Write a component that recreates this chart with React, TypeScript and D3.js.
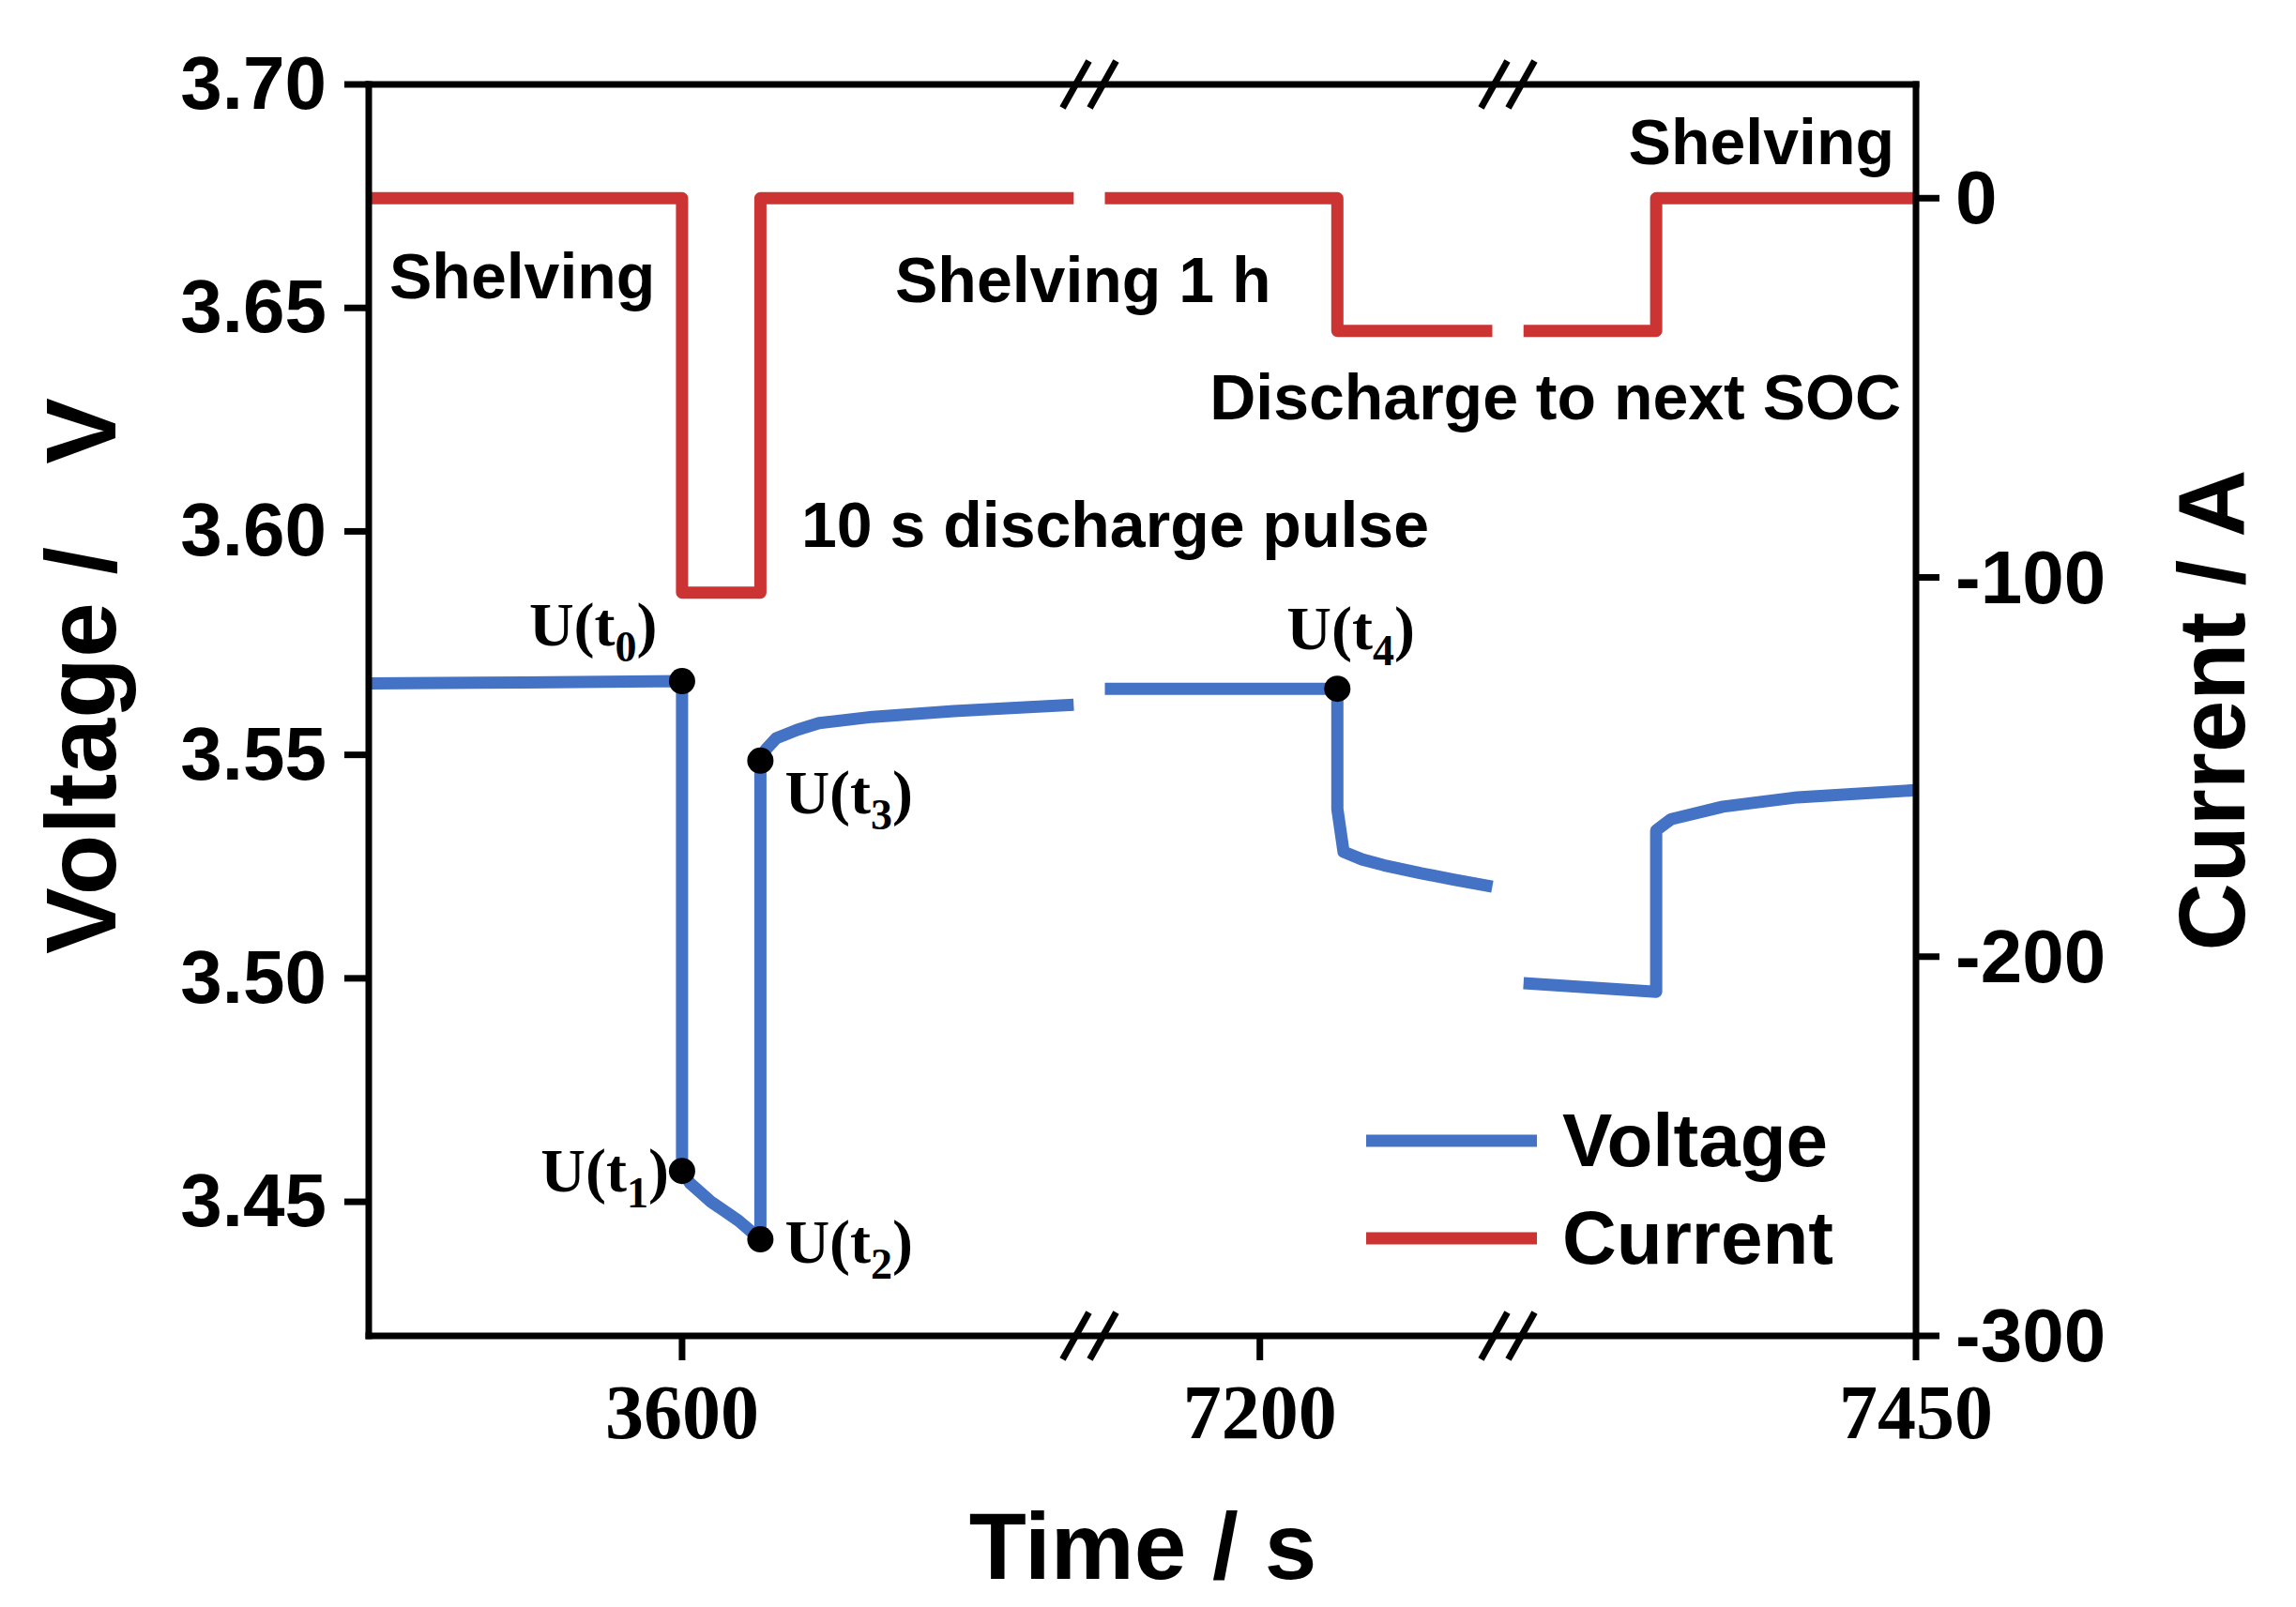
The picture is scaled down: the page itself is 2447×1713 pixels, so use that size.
import { useEffect, useRef } from 'react'
import * as d3 from 'd3'

// broken time axis: three visible windows
const timeSegments: [number, number][] = [
  [3560, 3652],
  [7178, 7232],
  [7398, 7450],
]
const timeTicks = [3600, 7200, 7450]
const voltageTicks = [3.45, 3.5, 3.55, 3.6, 3.65, 3.7]
const currentTicks = [0, -100, -200, -300]

// voltage, one array pair per window
const voltageTime1 = [3560, 3580, 3600, 3600, 3601, 3603.7, 3607.2, 3609.6, 3610, 3610, 3610.7, 3612, 3614.7, 3617.5, 3624.3, 3634.7, 3650]
const voltage1 = [3.566, 3.5662, 3.5665, 3.4569, 3.4542, 3.45, 3.4458, 3.4422, 3.4416, 3.5487, 3.5512, 3.5537, 3.5556, 3.5571, 3.5585, 3.5598, 3.5612]
const voltageTime2 = [7180, 7195, 7210, 7210, 7210.8, 7213.2, 7216, 7220.8, 7225, 7230]
const voltage2 = [3.5648, 3.5648, 3.5648, 3.5379, 3.5283, 3.5266, 3.5253, 3.5235, 3.5221, 3.5205]
const voltageTime3 = [7400, 7416.9, 7416.9, 7418.8, 7425.4, 7434.9, 7450]
const voltage3 = [3.4989, 3.497, 3.5331, 3.5356, 3.5384, 3.5405, 3.5421]

// current
const currentTime1 = [3560, 3600, 3600, 3610, 3610, 3650]
const current1 = [0, 0, -104, -104, 0, 0]
const currentTime2 = [7180, 7210, 7210, 7230]
const current2 = [0, 0, -35, -35]
const currentTime3 = [7400, 7416.9, 7416.9, 7450]
const current3 = [-35, -35, 0, 0]

// marked points U(t0)..U(t4)
const keyTimes = [3600, 3600, 3610, 3610, 7210]
const keyVoltages = [3.5665, 3.4569, 3.4416, 3.5487, 3.5648]
const keySubs = ['0', '1', '2', '3', '4']

const SANS = "'Liberation Sans', Arial, sans-serif"
const SERIF = "'Liberation Serif', 'Times New Roman', serif"
const BLUE = '#4472c4'
const RED = '#cc3333'

export default function App() {
  const svgRef = useRef<SVGSVGElement>(null)

  useEffect(() => {
    const svg = d3.select(svgRef.current)
    svg.selectAll('*').remove()

    const left = 393
    const right = 2042
    const top = 90
    const bottom = 1424
    const breaks = [1161, 1607]
    const edges = [left, ...breaks, right]

    const xs = timeSegments.map((d, i) => d3.scaleLinear().domain(d).range([edges[i], edges[i + 1]]))
    const x = (t: number) => {
      const i = timeSegments.findIndex(([a, b]) => t >= a && t <= b)
      return xs[i](t)
    }
    const y = d3.scaleLinear().domain([3.42, 3.7]).range([bottom, top])
    const y2 = d3.scaleLinear().domain([-300, 30]).range([bottom, top])

    const line = d3.line<[number, number]>()

    // current lines
    const currentSets = [
      [currentTime1, current1],
      [currentTime2, current2],
      [currentTime3, current3],
    ]
    currentSets.forEach(([ts, vs]) => {
      svg
        .append('path')
        .attr('d', line(ts.map((t, i) => [x(t), y2(vs[i])]))!)
        .attr('fill', 'none')
        .attr('stroke', RED)
        .attr('stroke-width', 13)
        .attr('stroke-linejoin', 'round')
    })

    // voltage lines
    const voltageSets = [
      [voltageTime1, voltage1],
      [voltageTime2, voltage2],
      [voltageTime3, voltage3],
    ]
    voltageSets.forEach(([ts, vs]) => {
      svg
        .append('path')
        .attr('d', line(ts.map((t, i) => [x(t), y(vs[i])]))!)
        .attr('fill', 'none')
        .attr('stroke', BLUE)
        .attr('stroke-width', 13)
        .attr('stroke-linejoin', 'round')
    })

    // frame
    const frame = svg.append('g').attr('stroke', '#000').attr('stroke-width', 7).attr('stroke-linecap', 'square')
    frame.append('line').attr('x1', left).attr('x2', left).attr('y1', top).attr('y2', bottom)
    frame.append('line').attr('x1', right).attr('x2', right).attr('y1', top).attr('y2', bottom)
    frame.append('line').attr('x1', left).attr('x2', right).attr('y1', top).attr('y2', top)
    frame.append('line').attr('x1', left).attr('x2', right).attr('y1', bottom).attr('y2', bottom)

    // break marks
    const brk = svg.append('g').attr('stroke', '#000').attr('stroke-width', 7)
    breaks.forEach((bx) => {
      ;[top, bottom].forEach((ay) => {
        ;[-14.5, 14.5].forEach((off) => {
          brk
            .append('line')
            .attr('x1', bx + off - 14)
            .attr('y1', ay + 25)
            .attr('x2', bx + off + 14)
            .attr('y2', ay - 25)
        })
      })
    })

    // left axis
    voltageTicks.forEach((v) => {
      svg.append('line').attr('x1', left - 26).attr('x2', left).attr('y1', y(v)).attr('y2', y(v)).attr('stroke', '#000').attr('stroke-width', 7)
      svg
        .append('text')
        .attr('x', 348)
        .attr('y', y(v) + 26)
        .attr('text-anchor', 'end')
        .attr('font-family', SANS)
        .attr('font-weight', 'bold')
        .attr('font-size', 80)
        .text(d3.format('.2f')(v))
    })

    // right axis
    currentTicks.forEach((c) => {
      svg.append('line').attr('x1', right).attr('x2', right + 25).attr('y1', y2(c)).attr('y2', y2(c)).attr('stroke', '#000').attr('stroke-width', 7)
      svg
        .append('text')
        .attr('x', 2084)
        .attr('y', y2(c) + 27)
        .attr('text-anchor', 'start')
        .attr('font-family', SANS)
        .attr('font-weight', 'bold')
        .attr('font-size', 80)
        .text(String(c))
    })

    // bottom axis
    timeTicks.forEach((t) => {
      svg.append('line').attr('x1', x(t)).attr('x2', x(t)).attr('y1', bottom).attr('y2', bottom + 26).attr('stroke', '#000').attr('stroke-width', 7)
      svg
        .append('text')
        .attr('x', x(t))
        .attr('y', 1533)
        .attr('text-anchor', 'middle')
        .attr('font-family', SERIF)
        .attr('font-weight', 'bold')
        .attr('font-size', 82)
        .text(t)
    })

    // axis titles
    svg
      .append('text')
      .attr('x', 1218)
      .attr('y', 1683)
      .attr('text-anchor', 'middle')
      .attr('font-family', SANS)
      .attr('font-weight', 'bold')
      .attr('font-size', 100)
      .text('Time / s')
    svg
      .append('text')
      .attr('transform', 'translate(123,1017) rotate(-90)')
      .attr('text-anchor', 'start')
      .attr('font-family', SANS)
      .attr('font-weight', 'bold')
      .attr('font-size', 106)
      .style('white-space', 'pre')
      .text('Voltage /   V')
    svg
      .append('text')
      .attr('transform', 'translate(2392,757) rotate(-90)')
      .attr('text-anchor', 'middle')
      .attr('font-family', SANS)
      .attr('font-weight', 'bold')
      .attr('font-size', 100)
      .text('Current / A')

    // annotations
    const notes: [string, number, number, string][] = [
      ['Shelving', 415, 318, 'start'],
      ['Shelving 1 h', 954, 322, 'start'],
      ['Shelving', 2019, 175, 'end'],
      ['Discharge to next SOC', 2026, 447, 'end'],
      ['10 s discharge pulse', 854, 583, 'start'],
    ]
    notes.forEach(([s, nx, ny, anchor]) => {
      svg
        .append('text')
        .attr('x', nx)
        .attr('y', ny)
        .attr('text-anchor', anchor)
        .attr('font-family', SANS)
        .attr('font-weight', 'bold')
        .attr('font-size', 68)
        .text(s)
    })

    // key points
    const labelOffsets: [number, number, string][] = [
      [-163, -38, 'start'],
      [-14, 22, 'end'],
      [26, 25, 'start'],
      [26, 56, 'start'],
      [-54, -42, 'start'],
    ]
    keyTimes.forEach((t, i) => {
      const px = x(t)
      const py = y(keyVoltages[i])
      svg.append('circle').attr('cx', px).attr('cy', py).attr('r', 14).attr('fill', '#000')
      const [dx, dy, anchor] = labelOffsets[i]
      const txt = svg
        .append('text')
        .attr('x', px + dx)
        .attr('y', py + dy)
        .attr('text-anchor', anchor)
        .attr('font-family', SERIF)
        .attr('font-weight', 'bold')
        .attr('font-size', 66)
      txt.append('tspan').text('U(t')
      txt.append('tspan').attr('font-size', 46).attr('dy', 17).text(keySubs[i])
      txt.append('tspan').attr('dy', -17).text(')')
    })

    // legend
    const legend: [string, string, number][] = [
      ['Voltage', BLUE, 1216],
      ['Current', RED, 1320],
    ]
    legend.forEach(([name, color, ly]) => {
      svg.append('line').attr('x1', 1456).attr('x2', 1638).attr('y1', ly).attr('y2', ly).attr('stroke', color).attr('stroke-width', 13)
      svg
        .append('text')
        .attr('x', 1665)
        .attr('y', ly + 27)
        .attr('font-family', SANS)
        .attr('font-weight', 'bold')
        .attr('font-size', 80)
        .text(name)
    })
  }, [])

  return (
    <svg
      ref={svgRef}
      width={2447}
      height={1713}
      style={{ position: 'absolute', left: 0, top: 0, background: '#fff' }}
    />
  )
}
